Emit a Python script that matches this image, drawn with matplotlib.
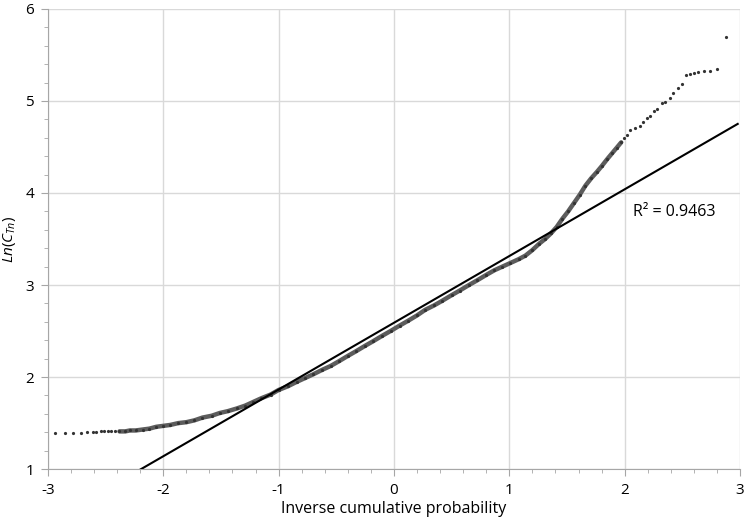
import numpy as np
import matplotlib.pyplot as plt
from matplotlib.ticker import MultipleLocator

plt.rcParams['font.family'] = ['Open Sans', 'DejaVu Sans']
plt.rcParams['mathtext.fontset'] = 'custom'
plt.rcParams['mathtext.it'] = 'Open Sans:style=italic'
plt.rcParams['mathtext.rm'] = 'Open Sans'
plt.rcParams['axes.unicode_minus'] = False

# inverse cumulative probability (x) and Ln(C_Tn) (y)
q = [-2.94, -2.85, -2.78, -2.71, -2.66, -2.61, -2.58, -2.54, -2.51, -2.48, -2.45, -2.42,
     -2.38, -2.33, -2.29, -2.24, -2.18, -2.12, -2.06, -2.00, -1.94, -1.87, -1.80, -1.73,
     -1.66, -1.58, -1.51, -1.44, -1.36, -1.29, -1.22, -1.15, -1.07, -1.00, -0.92, -0.84,
     -0.77, -0.70, -0.62, -0.55, -0.48, -0.40, -0.33, -0.25, -0.18, -0.10, -0.03, 0.05,
     0.12, 0.20, 0.27, 0.35, 0.42, 0.50, 0.57, 0.65, 0.72, 0.80, 0.87, 0.94,
     1.01, 1.08, 1.14, 1.20, 1.26, 1.31, 1.36, 1.41, 1.46, 1.51, 1.56, 1.61,
     1.66, 1.71, 1.76, 1.80, 1.85, 1.89, 1.93, 1.97,
     1.99, 2.02, 2.05, 2.09, 2.13, 2.16, 2.19, 2.22, 2.25, 2.28, 2.32, 2.35,
     2.39, 2.42, 2.46, 2.50, 2.53, 2.57, 2.60, 2.64, 2.69, 2.74, 2.80, 2.88]
ln_c = [1.39, 1.39, 1.39, 1.39, 1.40, 1.40, 1.40, 1.41, 1.41, 1.41, 1.41, 1.41,
        1.41, 1.41, 1.42, 1.42, 1.43, 1.44, 1.46, 1.47, 1.48, 1.50, 1.51, 1.53,
        1.56, 1.58, 1.61, 1.63, 1.66, 1.69, 1.73, 1.77, 1.81, 1.86, 1.90, 1.95,
        1.99, 2.03, 2.08, 2.12, 2.17, 2.23, 2.28, 2.34, 2.39, 2.45, 2.50, 2.56,
        2.61, 2.67, 2.73, 2.78, 2.83, 2.89, 2.94, 3.00, 3.05, 3.11, 3.16, 3.20,
        3.24, 3.28, 3.32, 3.38, 3.45, 3.50, 3.56, 3.63, 3.72, 3.80, 3.89, 3.98,
        4.08, 4.16, 4.23, 4.29, 4.37, 4.43, 4.49, 4.55,
        4.60, 4.63, 4.68, 4.71, 4.73, 4.77, 4.82, 4.84, 4.89, 4.91, 4.98, 4.99,
        5.03, 5.09, 5.14, 5.18, 5.28, 5.29, 5.30, 5.31, 5.32, 5.33, 5.35, 5.70]

# trendline
trend_slope = 0.725
trend_icpt = 2.59
r2_text = 'R² = 0.9463'

q = np.array(q)
ln_c = np.array(ln_c)
dense = (q > -2.40) & (q < 1.98)   # part where the markers merge into a band

fig = plt.figure(figsize=(7.49, 5.23), dpi=100)
ax = fig.add_axes([0.064, 0.103, 0.924, 0.880])

ax.plot(q[dense], ln_c[dense], color='#5c5c5c', lw=3.2, solid_capstyle='round', zorder=2)
ax.plot(q, ln_c, 'o', color='#333333', ms=2.3, mew=0, zorder=3)

xt = np.array([q.min(), 2.98])
ax.plot(xt, trend_slope * xt + trend_icpt, color='black', lw=1.5, zorder=4)

ax.text(2.07, 3.79, r2_text, fontsize=11.5, va='center', ha='left')

ax.set_xlim(-3, 3)
ax.set_ylim(1, 6)
ax.xaxis.set_major_locator(MultipleLocator(1))
ax.yaxis.set_major_locator(MultipleLocator(1))
ax.xaxis.set_minor_locator(MultipleLocator(0.2))
ax.yaxis.set_minor_locator(MultipleLocator(0.2))
ax.grid(which='major', color='#d9d9d9', lw=1.0)
ax.set_axisbelow(True)
for s in ['top', 'right']:
    ax.spines[s].set_visible(False)
for s in ['left', 'bottom']:
    ax.spines[s].set_color('#a6a6a6')
ax.tick_params(which='major', length=5, color='#a6a6a6', labelsize=11, pad=5)
ax.tick_params(which='minor', length=3, color='#a6a6a6')
ax.set_xlabel('Inverse cumulative probability', fontsize=11.5, labelpad=2)
ax.set_ylabel(r'$Ln(C_{Tn})$', fontsize=11, labelpad=5)

plt.savefig('out.png', dpi=100)
